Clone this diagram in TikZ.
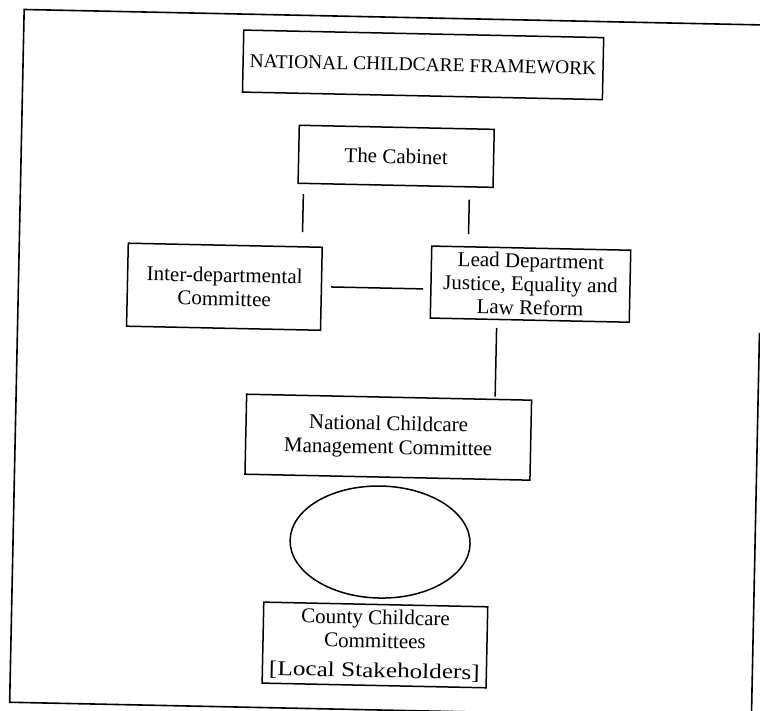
\documentclass[tikz,border=0pt]{standalone}
\usepackage{fontspec}
\usepackage{graphicx}
\setmainfont{Liberation Serif}
\usetikzlibrary{shapes.geometric}
\begin{document}
\begin{tikzpicture}[x=1pt,y=-1pt,
  box/.style={draw, line width=1.5pt, align=center, inner sep=0pt,
    font=\fontsize{21}{23.5}\selectfont},
  conn/.style={line width=1.5pt},
  frameline/.style={line width=1.6pt}]
\clip (0,0) rectangle (760,710);
\useasboundingbox (0,0) rectangle (760,710);
\begin{scope}[rotate around={-1.2:(380,355)}, transform shape]
  % outer frame (partly faded in the scan)
  \coordinate (fbl) at (17,710);
  \coordinate (ftl) at (17,17);
  \coordinate (ftr) at (790,17);
  \coordinate (fbe) at (505,710);
  \coordinate (frt) at (759,325);
  \coordinate (frb) at (759,740);
  \draw[frameline] (fbe) -- (fbl) -- (ftl) -- (ftr);
  \draw[frameline] (frt) -- (frb);

  \node[box, minimum width=360pt, minimum height=62pt,
        font=\fontsize{19.5}{23}\selectfont] (ncf) at (417,64)
        {NATIONAL CHILDCARE FRAMEWORK};
  \node[box, minimum width=195pt, minimum height=58pt] (cab) at (392,156)
        {The Cabinet};
  \node[box, minimum width=194pt, minimum height=83pt] (inter) at (223,290)
        {Inter-departmental\\Committee};
  \node[box, minimum width=199pt, minimum height=72pt] (lead) at (529,281)
        {Lead Department\\Justice, Equality and\\Law Reform};
  \node[box, minimum width=285pt, minimum height=80pt] (ncmc) at (390,437)
        {National Childcare\\Management Committee};
  \node[draw, line width=1.5pt, ellipse, inner sep=0pt,
        minimum width=180pt, minimum height=112pt] (ell) at (384,542) {};
  \node[box, minimum width=224pt, minimum height=81pt] (county) at (381,645)
        {County Childcare\\Committees\\[6pt]\scalebox{1.2}[1]{[Local Stakeholders]}};

  % connectors
  \draw[conn, shorten <=10pt, shorten >=14pt]
    (cab.south -| 300,0) -- (inter.north -| 300,0);
  \draw[conn, shorten <=12pt, shorten >=12pt]
    (cab.south -| 466,0) -- (lead.north -| 466,0);
  \draw[conn, shorten <=9pt, shorten >=7pt]
    (inter.east |- 0,288) -- (lead.west |- 0,288);
  \draw[conn, shorten <=8pt, shorten >=2pt]
    (lead.south -| 496,0) -- (ncmc.north -| 496,0);
\end{scope}
\end{tikzpicture}
\end{document}
